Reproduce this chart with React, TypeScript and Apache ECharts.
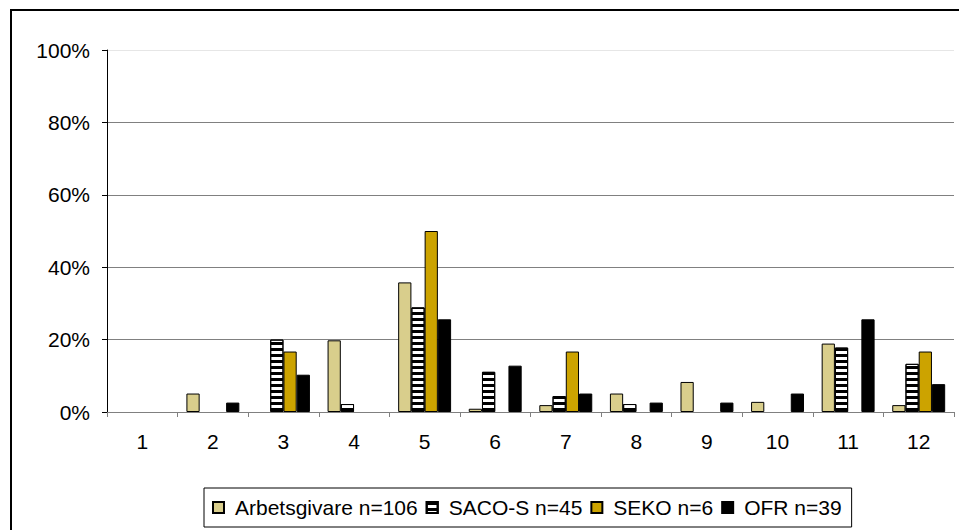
import React, { useEffect, useRef } from "react";
import * as echarts from "echarts";

const categories = ["1", "2", "3", "4", "5", "6", "7", "8", "9", "10", "11", "12"];
const arbetsgivare = [0, 5.1, 0, 19.8, 35.8, 0.9, 1.9, 5.1, 8.3, 2.8, 18.9, 1.9];
const sacoS = [0, 0, 20, 2.2, 28.9, 11.1, 4.4, 2.2, 0, 0, 17.8, 13.3];
const seko = [0, 0, 16.7, 0, 50, 0, 16.7, 0, 0, 0, 0, 16.7];
const ofr = [0, 2.6, 10.3, 0, 25.6, 12.8, 5.1, 2.6, 2.6, 5.1, 25.6, 7.7];
const seriesNames = ["Arbetsgivare n=106", "SACO-S n=45", "SEKO n=6", "OFR n=39"];
const yTicks = [0, 20, 40, 60, 80, 100];

const noZero = (arr: number[]) => arr.map((v) => (v === 0 ? null : v));

export default function App() {
  const ref = useRef<HTMLDivElement>(null);
  useEffect(() => {
    if (!ref.current) return;
    const chart = echarts.init(ref.current, undefined, { renderer: "svg" });
    const font = "Liberation Sans, Arial, sans-serif";
    const barBase = {
      type: "bar" as const,
      barGap: "0%",
      barCategoryGap: "25%",
    };
    const border = { borderColor: "#000", borderWidth: 1 };
    chart.setOption({
      animation: false,
      backgroundColor: "#fff",
      textStyle: { fontFamily: font },
      grid: { left: 107, right: 5, top: 50, bottom: 118, containLabel: false },
      xAxis: {
        type: "category",
        data: categories,
        axisLine: { show: true, lineStyle: { color: "#808080", width: 1 } },
        axisTick: { show: true, length: 5, lineStyle: { color: "#808080" } },
        axisLabel: { color: "#000", fontSize: 21, fontFamily: font, margin: 19 },
      },
      yAxis: {
        type: "value",
        min: yTicks[0],
        max: yTicks[yTicks.length - 1],
        interval: 20,
        axisLine: { show: true, lineStyle: { color: "#000", width: 1 } },
        axisTick: { show: true, length: 5, lineStyle: { color: "#000" } },
        axisLabel: { color: "#000", fontSize: 21, fontFamily: font, margin: 17, formatter: "{value}%" },
        splitLine: {
          show: true,
          lineStyle: { color: ["#808080", "#808080", "#808080", "#808080", "#808080", "#e6e6e6"], width: 1 },
        },
      },
      legend: {
        left: 204,
        top: 488,
        padding: [9, 10, 9, 8],
        borderColor: "#000",
        borderWidth: 1,
        itemWidth: 11,
        itemHeight: 11,
        itemGap: 8,
        icon: "rect",
        textStyle: { fontSize: 21, color: "#000", fontFamily: font, padding: [0, 0, 0, 6] },
        data: seriesNames,
      },
      series: [
        { ...barBase, name: seriesNames[0], data: noZero(arbetsgivare), itemStyle: { color: "#D9CE8C", ...border } },
        {
          ...barBase,
          name: seriesNames[1],
          data: noZero(sacoS),
          itemStyle: {
            color: "#fff",
            ...border,
            decal: {
              symbol: "rect",
              symbolSize: 1,
              color: "#000",
              dashArrayX: [8, 0],
              dashArrayY: [3, 3],
              rotation: 0,
            },
          },
        },
        { ...barBase, name: seriesNames[2], data: noZero(seko), itemStyle: { color: "#CCA300", ...border } },
        { ...barBase, name: seriesNames[3], data: noZero(ofr), itemStyle: { color: "#000", ...border } },
      ],
      graphic: [
        {
          type: "rect",
          shape: { x: 11, y: 10, width: 1000, height: 600 },
          style: { fill: "none", stroke: "#000", lineWidth: 2 },
          silent: true,
          z: 100,
        },
      ],
    });
    return () => chart.dispose();
  }, []);
  return (
    <div
      ref={ref}
      style={{ position: "fixed", left: 0, top: 0, width: 959, height: 530 }}
    />
  );
}
